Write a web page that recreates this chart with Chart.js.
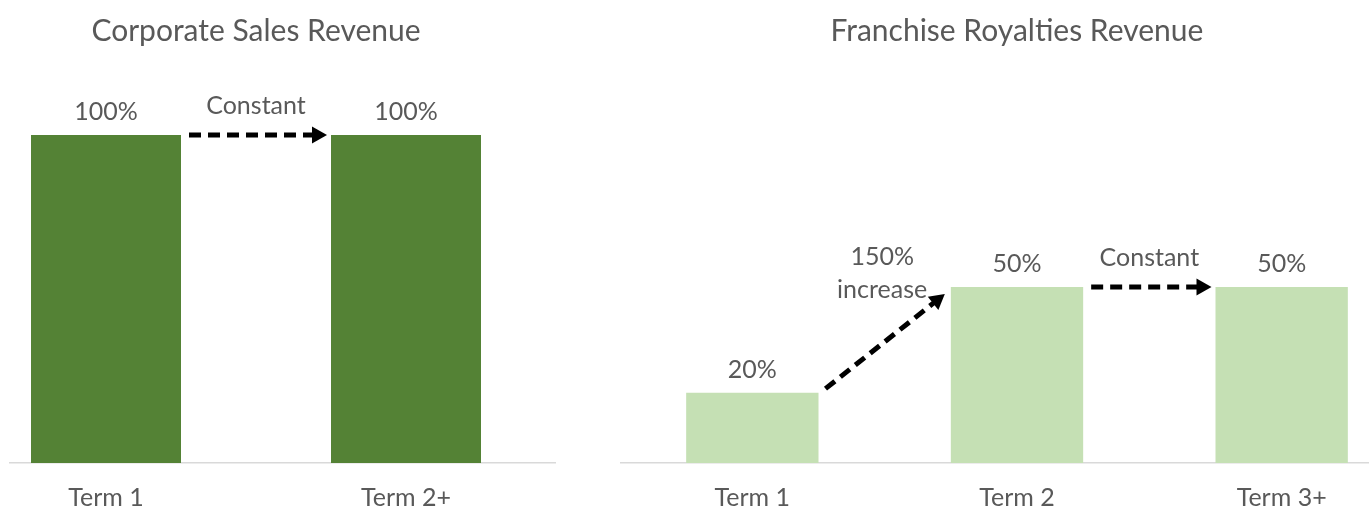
<!DOCTYPE html>
<html>
<head>
<meta charset="utf-8">
<script src="https://cdn.jsdelivr.net/npm/chart.js@4"></script>
<style>
  html, body { margin: 0; padding: 0; background: #fff; overflow: hidden; width: 1369px; height: 508px; }
  #leftClip { position: absolute; left: 9px; top: 0; width: 547px; height: 508px; overflow: hidden; }
  #corpChart { position: absolute; left: -53px; top: 0; }
  #franChart { position: absolute; left: 620px; top: 0; }
</style>
</head>
<body>
<div id="leftClip"><canvas id="corpChart" width="600" height="533"></canvas></div>
<canvas id="franChart" width="794" height="533"></canvas>
<script>
const corpLabels = ['Term 1', 'Term 2+'];
const corpValues = [100, 100];
const franLabels = ['Term 1', 'Term 2', 'Term 3+'];
const franValues = [20, 50, 50];
// arrows between bars, with their captions
const corpNotes = [{ from: 0, to: 1, text: ['Constant'] }];
const franNotes = [
  { from: 0, to: 1, text: ['150%', 'increase'] },
  { from: 1, to: 2, text: ['Constant'] }
];

const textColor = '#595959';
const fontFamily = 'Lato, "Open Sans", sans-serif';

// value labels above bars
const valueLabels = {
  id: 'valueLabels',
  afterDatasetsDraw(chart) {
    const ctx = chart.ctx;
    const data = chart.data.datasets[0].data;
    ctx.save();
    ctx.fillStyle = textColor;
    ctx.font = '25px ' + fontFamily;
    ctx.textAlign = 'center';
    ctx.textBaseline = 'middle';
    chart.getDatasetMeta(0).data.forEach((bar, i) => {
      ctx.fillText(data[i] + '%', bar.x, bar.y - 23);
    });
    ctx.restore();
  }
};

// dashed arrows + captions
const arrowNotes = {
  id: 'arrowNotes',
  afterDatasetsDraw(chart, args, opts) {
    const ctx = chart.ctx;
    const bars = chart.getDatasetMeta(0).data;
    (opts.notes || []).forEach(n => {
      const a = bars[n.from], b = bars[n.to];
      let x1 = a.x + a.width / 2, y1 = a.y;
      let x2 = b.x - b.width / 2, y2 = b.y;
      const flat = Math.abs(y1 - y2) < 1;
      if (flat) { x1 += 8; x2 -= 4; } else { x1 += 7; y1 -= 4; x2 -= 6; y2 += 7; }
      const ang = Math.atan2(y2 - y1, x2 - x1);
      const head = 15;
      const lx = x2 - Math.cos(ang) * head, ly = y2 - Math.sin(ang) * head;

      ctx.save();
      ctx.strokeStyle = '#000';
      ctx.lineWidth = 5;
      ctx.setLineDash([12, 7]);
      ctx.beginPath();
      ctx.moveTo(x1, y1);
      ctx.lineTo(lx + Math.cos(ang) * 2, ly + Math.sin(ang) * 2);
      ctx.stroke();
      ctx.setLineDash([]);
      ctx.fillStyle = '#000';
      ctx.beginPath();
      ctx.moveTo(x2, y2);
      ctx.lineTo(lx + Math.sin(ang) * 8.5, ly - Math.cos(ang) * 8.5);
      ctx.lineTo(lx - Math.sin(ang) * 8.5, ly + Math.cos(ang) * 8.5);
      ctx.closePath();
      ctx.fill();

      ctx.fillStyle = textColor;
      ctx.font = '25px ' + fontFamily;
      ctx.textAlign = 'center';
      ctx.textBaseline = 'middle';
      const tx = (x1 + x2) / 2 - (flat ? 2 : 3);
      const lastY = Math.min(y1, y2) - (flat ? 29 : 4);
      n.text.forEach((t, i) => {
        ctx.fillText(t, tx, lastY - (n.text.length - 1 - i) * 33);
      });
      ctx.restore();
    });
  }
};

function makeChart(id, labels, values, color, title, yMax, notes) {
  return new Chart(document.getElementById(id).getContext('2d'), {
    type: 'bar',
    data: {
      labels: labels,
      datasets: [{
        data: values,
        backgroundColor: color,
        borderWidth: 0,
        barPercentage: 0.5,
        categoryPercentage: 1
      }]
    },
    options: {
      responsive: false,
      animation: false,
      layout: { padding: 0 },
      plugins: {
        legend: { display: false },
        tooltip: { enabled: false },
        title: {
          display: true,
          text: title,
          color: textColor,
          font: { family: fontFamily, size: 30, weight: 'normal' },
          padding: { top: 13, bottom: 27 }
        },
        arrowNotes: { notes: notes }
      },
      scales: {
        x: {
          grid: { display: false, drawTicks: false },
          border: { display: true, color: '#D9D9D9', width: 1.5 },
          ticks: {
            color: textColor,
            padding: 20,
            font: { family: fontFamily, size: 25 }
          }
        },
        y: { display: false, min: 0, max: yMax }
      }
    },
    plugins: [valueLabels, arrowNotes]
  });
}

makeChart('corpChart', corpLabels, corpValues, '#548235', 'Corporate Sales Revenue', 118, corpNotes);
makeChart('franChart', franLabels, franValues, '#C5E0B4', 'Franchise Royalties Revenue', 110, franNotes);
</script>
</body>
</html>
